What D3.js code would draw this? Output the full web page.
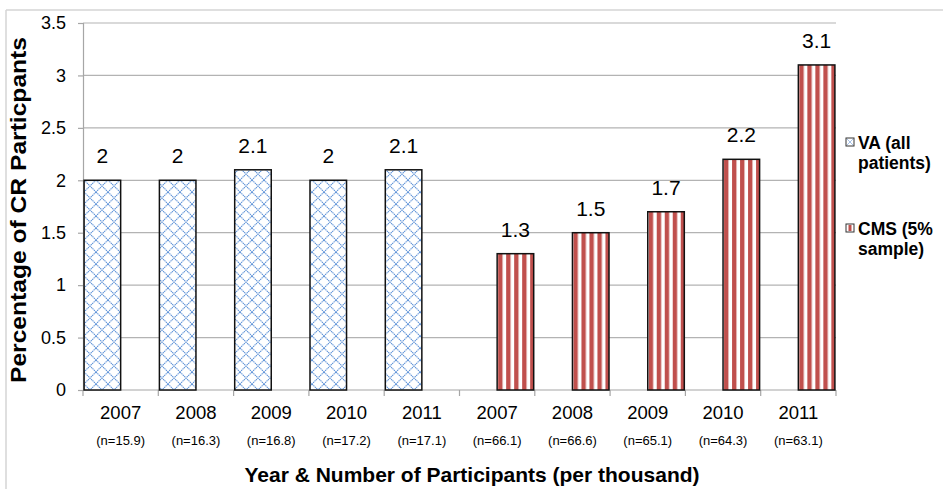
<!DOCTYPE html>
<html>
<head>
<meta charset="utf-8">
<script src="https://cdn.jsdelivr.net/npm/d3@7"></script>
<style>
  body { margin: 0; background: #fff; }
  svg { display: block; font-family: "Liberation Sans", Arial, sans-serif; }
</style>
</head>
<body>
<script>
var w = 943;
var h = 489;

// data
var years = ["2007", "2008", "2009", "2010", "2011", "2007", "2008", "2009", "2010", "2011"];
var nLabels = ["(n=15.9)", "(n=16.3)", "(n=16.8)", "(n=17.2)", "(n=17.1)",
               "(n=66.1)", "(n=66.6)", "(n=65.1)", "(n=64.3)", "(n=63.1)"];
var vaValues = [2, 2, 2.1, 2, 2.1, null, null, null, null, null];
var cmsValues = [null, null, null, null, null, 1.3, 1.5, 1.7, 2.2, 3.1];
var seriesKeys = ["va", "cms"];
var seriesNames = [["VA (all", "patients)"], ["CMS (5%", "sample)"]];
var yTicks = [0, 0.5, 1, 1.5, 2, 2.5, 3, 3.5];

var plotLeft = 83, plotRight = 836, plotTop = 23, plotBottom = 390;

var svg = d3.select("body").append("svg")
    .attr("width", w)
    .attr("height", h);

/* patterns: blue diamond grid and red vertical stripes */
var defs = svg.append("defs");
var diamond = defs.append("pattern")
    .attr("id", "pat-va")
    .attr("patternUnits", "userSpaceOnUse")
    .attr("width", 12).attr("height", 12);
diamond.append("rect").attr("width", 12).attr("height", 12).attr("fill", "#fff");
diamond.append("path")
    .attr("d", "M0,0L12,12M12,0L0,12M-1,11L1,13M11,-1L13,1")
    .attr("stroke", "#5f93d8")
    .attr("stroke-width", 1.1)
    .attr("stroke-dasharray", "1.4,0.6")
    .attr("fill", "none");

var x0 = d3.scaleBand()
    .domain(d3.range(years.length))
    .range([plotLeft, plotRight])
    .padding(0);

var x1 = d3.scaleBand()
    .domain(seriesKeys)
    .range([0, x0.bandwidth()])
    .paddingInner(0)
    .paddingOuter(0.03);

var y = d3.scaleLinear()
    .domain([0, 3.5])
    .range([plotBottom, plotTop]);

/* outer chart border (left and top only show) */
svg.append("line").attr("x1", 6).attr("x2", 6).attr("y1", 10).attr("y2", h)
    .attr("stroke", "#d4d4d4").attr("stroke-width", 1.5);
svg.append("line").attr("x1", 6).attr("x2", w).attr("y1", 10).attr("y2", 10)
    .attr("stroke", "#d4d4d4").attr("stroke-width", 1.5);

/* gridlines */
svg.append("g")
    .selectAll("line")
    .data(yTicks.filter(function(d){ return d > 0; }))
    .enter()
    .append("line")
    .attr("x1", plotLeft).attr("x2", plotRight)
    .attr("y1", function(d){ return y(d); })
    .attr("y2", function(d){ return y(d); })
    .attr("stroke", "#b3b3b3")
    .attr("stroke-width", 1.2);

/* y axis */
var yAxis = d3.axisLeft(y)
    .tickValues(yTicks)
    .tickSize(5)
    .tickPadding(12)
    .tickFormat(function(d){ return String(d); });

var gy = svg.append("g")
    .attr("transform", "translate(" + plotLeft + ",0)")
    .call(yAxis);
gy.select(".domain").attr("stroke", "#a6a6a6").attr("stroke-width", 1.2);
gy.selectAll(".tick line").attr("stroke", "#a6a6a6").attr("stroke-width", 1.2);
gy.selectAll(".tick text")
    .attr("font-size", 18)
    .attr("fill", "#000")
    .style("font-family", "Liberation Sans, Arial, sans-serif");

/* x axis: line with ticks at category boundaries */
var xBounds = x0.domain().map(function(i){ return x0(i); }).concat([plotRight]);
var gx = svg.append("g");
gx.append("line")
    .attr("x1", plotLeft).attr("x2", plotRight)
    .attr("y1", plotBottom).attr("y2", plotBottom)
    .attr("stroke", "#a6a6a6").attr("stroke-width", 1.2);
gx.selectAll(".xt")
    .data(xBounds)
    .enter()
    .append("line")
    .attr("class", "xt")
    .attr("x1", function(d){ return d; })
    .attr("x2", function(d){ return d; })
    .attr("y1", plotBottom).attr("y2", plotBottom + 6)
    .attr("stroke", "#a6a6a6").attr("stroke-width", 1.2);

gx.selectAll(".year")
    .data(years)
    .enter()
    .append("text")
    .attr("class", "year")
    .attr("x", function(d, i){ return x0(i) + x0.bandwidth() / 2; })
    .attr("y", 419)
    .attr("text-anchor", "middle")
    .attr("font-size", 18.5)
    .text(function(d){ return d; });

gx.selectAll(".nlab")
    .data(nLabels)
    .enter()
    .append("text")
    .attr("class", "nlab")
    .attr("x", function(d, i){ return x0(i) + x0.bandwidth() / 2; })
    .attr("y", 445)
    .attr("text-anchor", "middle")
    .attr("font-size", 13)
    .text(function(d){ return d; });

/* bars */
var bars = [];
years.forEach(function(yr, i){
    if (vaValues[i] != null) bars.push({i: i, key: "va", v: vaValues[i]});
    if (cmsValues[i] != null) bars.push({i: i, key: "cms", v: cmsValues[i]});
});

function barX(d){ return x0(d.i) + x1(d.key); }

// one stripe pattern per red bar so each starts with a stripe at its edge
bars.filter(function(d){ return d.key == "cms"; }).forEach(function(d){
    var p = defs.append("pattern")
        .attr("id", "pat-cms-" + d.i)
        .attr("patternUnits", "userSpaceOnUse")
        .attr("x", barX(d) + 1)
        .attr("width", 8).attr("height", 8);
    p.append("rect").attr("width", 8).attr("height", 8).attr("fill", "#fff");
    p.append("rect").attr("width", 4.4).attr("height", 8).attr("fill", "#c0504d");
});

svg.append("g")
    .selectAll("rect")
    .data(bars)
    .enter()
    .append("rect")
    .attr("x", barX)
    .attr("y", function(d){ return y(d.v); })
    .attr("width", x1.bandwidth())
    .attr("height", function(d){ return y(0) - y(d.v); })
    .attr("fill", function(d){
        return d.key == "va" ? "url(#pat-va)" : "url(#pat-cms-" + d.i + ")";
    })
    .attr("stroke", "#111")
    .attr("stroke-width", 1.5);

/* value labels */
svg.append("g")
    .selectAll("text")
    .data(bars)
    .enter()
    .append("text")
    .attr("x", function(d){ return barX(d) + x1.bandwidth() / 2; })
    .attr("y", function(d){ return y(d.v) - 17; })
    .attr("text-anchor", "middle")
    .attr("font-size", 21)
    .text(function(d){ return d.v; });

/* legend */
var legendY = [149, 235];
var legend = svg.append("g");
seriesKeys.forEach(function(k, j){
    var g = legend.append("g");
    var ly = legendY[j];
    g.append("rect")
        .attr("x", 846).attr("y", ly - 11)
        .attr("width", 8).attr("height", 8)
        .attr("fill", "#fff")
        .attr("stroke", "#333").attr("stroke-width", 1);
    if (k == "va") {
        g.append("path")
            .attr("d", "M847," + (ly - 10) + "l6,6m0,-6l-6,6")
            .attr("stroke", "#8fb2e3").attr("stroke-width", 0.8);
    } else {
        g.append("rect")
            .attr("x", 848.5).attr("y", ly - 10)
            .attr("width", 3).attr("height", 6)
            .attr("fill", "#c0504d");
    }
    g.selectAll("text")
        .data(seriesNames[j])
        .enter()
        .append("text")
        .attr("x", 858)
        .attr("y", function(d, r){ return ly + r * 20; })
        .attr("font-size", 17.5)
        .attr("font-weight", "bold")
        .text(function(d){ return d; });
});

/* axis titles */
svg.append("text")
    .attr("x", 472)
    .attr("y", 482)
    .attr("text-anchor", "middle")
    .attr("font-size", 21)
    .attr("font-weight", "bold")
    .text("Year & Number of Participants (per thousand)");

svg.append("text")
    .attr("transform", "translate(26,210) rotate(-90)")
    .attr("text-anchor", "middle")
    .attr("font-size", 22)
    .attr("font-weight", "bold")
    .attr("textLength", 346)
    .attr("lengthAdjust", "spacingAndGlyphs")
    .text("Percentage of CR Particpants");
</script>
</body>
</html>
